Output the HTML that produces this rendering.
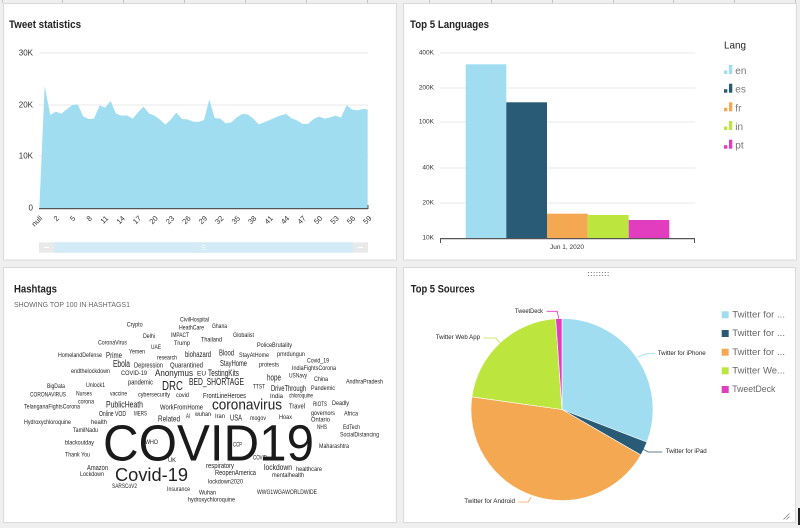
<!DOCTYPE html>
<html><head><meta charset="utf-8"><style>
html,body{margin:0;padding:0;background:#efefef;}
svg{display:block;}
text{font-family:"Liberation Sans",sans-serif;}
</style></head><body>
<svg width="800" height="528" viewBox="0 0 800 528" xmlns="http://www.w3.org/2000/svg">
<rect x="0" y="0" width="800" height="528" fill="#efefef"/>
<g stroke="#c4c4c4" stroke-width="1">
<line x1="2.5" y1="0" x2="2.5" y2="3"/><line x1="62.5" y1="0" x2="62.5" y2="3"/><line x1="123.5" y1="0" x2="123.5" y2="3"/><line x1="184.5" y1="0" x2="184.5" y2="3"/><line x1="245.5" y1="0" x2="245.5" y2="3"/><line x1="306.5" y1="0" x2="306.5" y2="3"/><line x1="367.5" y1="0" x2="367.5" y2="3"/><line x1="429.5" y1="0" x2="429.5" y2="3"/><line x1="491.5" y1="0" x2="491.5" y2="3"/><line x1="552.5" y1="0" x2="552.5" y2="3"/><line x1="613.5" y1="0" x2="613.5" y2="3"/><line x1="673.5" y1="0" x2="673.5" y2="3"/><line x1="734.5" y1="0" x2="734.5" y2="3"/><line x1="795.5" y1="0" x2="795.5" y2="3"/>
</g>
<!-- panels -->
<rect x="3.5" y="3.5" width="393" height="256.5" fill="#fff" stroke="#dadada"/>
<rect x="403.5" y="3.5" width="393" height="256.5" fill="#fff" stroke="#dadada"/>
<rect x="3.5" y="267.5" width="393" height="255" fill="#fff" stroke="#dadada"/>
<rect x="403.5" y="267.5" width="392" height="255" fill="#fff" stroke="#dadada"/>

<!-- ===== Tweet statistics ===== -->
<text x="9" y="28" font-size="11" font-weight="bold" fill="#222" textLength="72" lengthAdjust="spacingAndGlyphs">Tweet statistics</text>
<g stroke="#e8e8e8" stroke-width="1">
<line x1="39" y1="53" x2="368" y2="53"/><line x1="39" y1="105" x2="368" y2="105"/><line x1="39" y1="156" x2="368" y2="156"/>
</g>
<g font-size="8" fill="#333" text-anchor="end" dominant-baseline="central">
<text x="33" y="53">30K</text><text x="33" y="105">20K</text><text x="33" y="156">10K</text><text x="33" y="208">0</text>
</g>
<g transform="scale(0.333333)">
<polygon fill="#a0ddf0" points="118,625 134,258 151,345 167,335 184,341 200,328 217,315 233,313 250,350 266,357 282,356 299,316 315,323 332,303 348,341 365,347 381,346 398,356 414,337 430,320 447,340 463,347 480,359 496,374 513,358 529,338 546,357 562,358 579,365 595,366 612,360 628,298 644,354 661,356 677,370 694,367 710,352 727,342 743,343 760,356 776,373 792,367 809,360 825,353 842,346 858,342 875,355 891,361 908,372 924,372 941,357 957,350 974,356 990,352 1007,347 1023,353 1040,315 1056,329 1073,331 1089,327 1103,328 1103,625"/>
</g>
<line x1="39" y1="208.6" x2="368" y2="208.6" stroke="#555" stroke-width="1.2"/>
<line x1="368" y1="205" x2="368" y2="209" stroke="#555" stroke-width="1"/>
<g font-size="7.5" fill="#333" text-anchor="end" dominant-baseline="central">
<text transform="translate(41,217) rotate(-45)">null</text>
<text transform="translate(57.8,217) rotate(-45)">2</text>
<text transform="translate(74.2,217) rotate(-45)">5</text>
<text transform="translate(90.7,217) rotate(-45)">8</text>
<text transform="translate(107.1,217) rotate(-45)">11</text>
<text transform="translate(123.6,217) rotate(-45)">14</text>
<text transform="translate(140,217) rotate(-45)">17</text>
<text transform="translate(156.5,217) rotate(-45)">20</text>
<text transform="translate(173,217) rotate(-45)">23</text>
<text transform="translate(189.4,217) rotate(-45)">26</text>
<text transform="translate(205.9,217) rotate(-45)">29</text>
<text transform="translate(222.3,217) rotate(-45)">32</text>
<text transform="translate(238.8,217) rotate(-45)">35</text>
<text transform="translate(255.2,217) rotate(-45)">38</text>
<text transform="translate(271.7,217) rotate(-45)">41</text>
<text transform="translate(288.1,217) rotate(-45)">44</text>
<text transform="translate(304.6,217) rotate(-45)">47</text>
<text transform="translate(321,217) rotate(-45)">50</text>
<text transform="translate(337.5,217) rotate(-45)">53</text>
<text transform="translate(354,217) rotate(-45)">56</text>
<text transform="translate(370.3,217) rotate(-45)">59</text>
</g>
<!-- scrollbar -->
<rect x="39" y="242.3" width="329" height="10.4" fill="#e9e9e9"/>
<rect x="54" y="242.3" width="299" height="10.4" fill="#d2ebf6"/>
<line x1="44" y1="247.5" x2="49" y2="247.5" stroke="#fff" stroke-width="1"/>
<line x1="358" y1="247.5" x2="363" y2="247.5" stroke="#fff" stroke-width="1"/>
<g fill="#fff"><circle cx="202" cy="245.5" r="0.5"/><circle cx="203.5" cy="245.5" r="0.5"/><circle cx="205" cy="245.5" r="0.5"/><circle cx="202" cy="247.5" r="0.5"/><circle cx="203.5" cy="247.5" r="0.5"/><circle cx="205" cy="247.5" r="0.5"/><circle cx="202" cy="249.5" r="0.5"/><circle cx="203.5" cy="249.5" r="0.5"/><circle cx="205" cy="249.5" r="0.5"/></g>

<!-- ===== Top 5 Languages ===== -->
<text x="410" y="28" font-size="11" font-weight="bold" fill="#222" textLength="79" lengthAdjust="spacingAndGlyphs">Top 5 Languages</text>
<g stroke="#e8e8e8" stroke-width="1">
<line x1="440" y1="53" x2="695" y2="53"/><line x1="440" y1="88" x2="695" y2="88"/><line x1="440" y1="122" x2="695" y2="122"/><line x1="440" y1="168" x2="695" y2="168"/><line x1="440" y1="203" x2="695" y2="203"/>
</g>
<g font-size="6.5" fill="#333" text-anchor="end" dominant-baseline="central">
<text x="434" y="53">400K</text><text x="434" y="88">200K</text><text x="434" y="122">100K</text><text x="434" y="168">40K</text><text x="434" y="203">20K</text><text x="434" y="238">10K</text>
</g>
<rect x="465.7" y="64.3" width="40.6" height="173.7" fill="#a0ddf0"/>
<rect x="506.3" y="102.3" width="40.7" height="135.7" fill="#295b76"/>
<rect x="547" y="213.7" width="40.7" height="24.3" fill="#f5a852"/>
<rect x="587.7" y="215" width="41" height="23" fill="#bce63e"/>
<rect x="628.7" y="220" width="40.6" height="18" fill="#e23cbf"/>
<line x1="440" y1="238.6" x2="695" y2="238.6" stroke="#555" stroke-width="1.2"/>
<line x1="440.5" y1="238" x2="440.5" y2="243" stroke="#555"/>
<line x1="694.5" y1="238" x2="694.5" y2="243" stroke="#555"/>
<text x="567" y="247.5" font-size="6.5" fill="#333" text-anchor="middle" dominant-baseline="central">Jun 1, 2020</text>
<text x="724" y="48.5" font-size="10.5" fill="#222" textLength="22" lengthAdjust="spacingAndGlyphs">Lang</text>
<g font-size="10" fill="#777">
<rect x="724" y="70.5" width="3.3" height="3.5" fill="#a0ddf0"/><rect x="729" y="65" width="3.3" height="9" fill="#a0ddf0"/><text x="735.3" y="74">en</text>
<rect x="724" y="89.2" width="3.3" height="3.5" fill="#295b76"/><rect x="729" y="83.7" width="3.3" height="9" fill="#295b76"/><text x="735.3" y="92.7">es</text>
<rect x="724" y="107.8" width="3.3" height="3.5" fill="#f5a852"/><rect x="729" y="102.3" width="3.3" height="9" fill="#f5a852"/><text x="735.3" y="111.3">fr</text>
<rect x="724" y="126.5" width="3.3" height="3.5" fill="#bce63e"/><rect x="729" y="121" width="3.3" height="9" fill="#bce63e"/><text x="735.3" y="130">in</text>
<rect x="724" y="145.2" width="3.3" height="3.5" fill="#e23cbf"/><rect x="729" y="139.7" width="3.3" height="9" fill="#e23cbf"/><text x="735.3" y="148.7">pt</text>
</g>

<!-- ===== Hashtags ===== -->
<text x="14" y="292.5" font-size="11" font-weight="bold" fill="#222" textLength="43" lengthAdjust="spacingAndGlyphs">Hashtags</text>
<text x="14" y="307.2" font-size="7" fill="#666" textLength="116" lengthAdjust="spacingAndGlyphs">SHOWING TOP 100 IN HASHTAGS1</text>
<g fill="#222" dominant-baseline="central" lengthAdjust="spacingAndGlyphs">
<text x="126.7" y="325.3" font-size="6" textLength="16" lengthAdjust="spacingAndGlyphs">Crypto</text>
<text x="180" y="320.7" font-size="6" textLength="29" lengthAdjust="spacingAndGlyphs">CivilHospital</text>
<text x="179" y="328.7" font-size="6" textLength="25" lengthAdjust="spacingAndGlyphs">HeathCare</text>
<text x="212" y="327" font-size="6" textLength="15" lengthAdjust="spacingAndGlyphs">Ghana</text>
<text x="143" y="337" font-size="6" textLength="12" lengthAdjust="spacingAndGlyphs">Delhi</text>
<text x="171" y="336" font-size="6" textLength="18" lengthAdjust="spacingAndGlyphs">IMPACT</text>
<text x="201" y="340" font-size="6.5" textLength="21" lengthAdjust="spacingAndGlyphs">Thailand</text>
<text x="233" y="336" font-size="6" textLength="21" lengthAdjust="spacingAndGlyphs">Globalist</text>
<text x="98" y="343.7" font-size="6" textLength="29" lengthAdjust="spacingAndGlyphs">CoronaVirus</text>
<text x="174" y="343.7" font-size="6.5" textLength="16" lengthAdjust="spacingAndGlyphs">Trump</text>
<text x="151" y="348" font-size="6" textLength="10" lengthAdjust="spacingAndGlyphs">UAE</text>
<text x="257" y="346" font-size="6" textLength="35" lengthAdjust="spacingAndGlyphs">PoliceBrutality</text>
<text x="129" y="352" font-size="6.5" textLength="16" lengthAdjust="spacingAndGlyphs">Yemen</text>
<text x="58" y="356" font-size="6" textLength="44" lengthAdjust="spacingAndGlyphs">HomelandDefense</text>
<text x="106" y="355.7" font-size="8" textLength="16" lengthAdjust="spacingAndGlyphs">Prime</text>
<text x="157" y="358" font-size="6.5" textLength="20" lengthAdjust="spacingAndGlyphs">research</text>
<text x="185" y="354.7" font-size="8" textLength="26" lengthAdjust="spacingAndGlyphs">biohazard</text>
<text x="219" y="353" font-size="8" textLength="15" lengthAdjust="spacingAndGlyphs">Blood</text>
<text x="239" y="356" font-size="6" textLength="30" lengthAdjust="spacingAndGlyphs">StayAtHome</text>
<text x="277" y="355" font-size="6" textLength="28" lengthAdjust="spacingAndGlyphs">pmrdungun</text>
<text x="113" y="364.7" font-size="10" textLength="17" lengthAdjust="spacingAndGlyphs">Ebola</text>
<text x="134" y="365" font-size="7.5" textLength="29" lengthAdjust="spacingAndGlyphs">Depression</text>
<text x="170" y="365" font-size="7.5" textLength="33" lengthAdjust="spacingAndGlyphs">Quarantined</text>
<text x="220" y="363" font-size="8.5" textLength="27" lengthAdjust="spacingAndGlyphs">StayHome</text>
<text x="259" y="365" font-size="6.5" textLength="20" lengthAdjust="spacingAndGlyphs">protests</text>
<text x="307" y="361" font-size="6.5" textLength="22" lengthAdjust="spacingAndGlyphs">Covid_19</text>
<text x="71" y="372" font-size="6" textLength="39" lengthAdjust="spacingAndGlyphs">endthelockdown</text>
<text x="121" y="373.7" font-size="6.5" textLength="26" lengthAdjust="spacingAndGlyphs">COVID-19</text>
<text x="155" y="373.3" font-size="9.5" textLength="38" lengthAdjust="spacingAndGlyphs">Anonymus</text>
<text x="197" y="374.7" font-size="6" textLength="9" lengthAdjust="spacingAndGlyphs">EU</text>
<text x="208" y="373" font-size="9" textLength="31" lengthAdjust="spacingAndGlyphs">TestingKits</text>
<text x="292" y="369" font-size="6" textLength="44" lengthAdjust="spacingAndGlyphs">IndiaFightsCorona</text>
<text x="267" y="378" font-size="9.5" textLength="14" lengthAdjust="spacingAndGlyphs">hope</text>
<text x="289" y="376.7" font-size="6" textLength="18" lengthAdjust="spacingAndGlyphs">USNavy</text>
<text x="314" y="379.3" font-size="6.5" textLength="14" lengthAdjust="spacingAndGlyphs">China</text>
<text x="346" y="382" font-size="6.5" textLength="37" lengthAdjust="spacingAndGlyphs">AndhraPradesh</text>
<text x="128" y="382" font-size="7.5" textLength="25" lengthAdjust="spacingAndGlyphs">pandemic</text>
<text x="162" y="386" font-size="12.5" textLength="21" lengthAdjust="spacingAndGlyphs">DRC</text>
<text x="189" y="382" font-size="10.5" textLength="55" lengthAdjust="spacingAndGlyphs">BED_SHORTAGE</text>
<text x="253" y="387" font-size="6.5" textLength="12" lengthAdjust="spacingAndGlyphs">TTST</text>
<text x="271" y="388" font-size="8.5" textLength="35" lengthAdjust="spacingAndGlyphs">DriveThrough</text>
<text x="311" y="388.3" font-size="6.5" textLength="24" lengthAdjust="spacingAndGlyphs">Pandemic</text>
<text x="47" y="387" font-size="6" textLength="18" lengthAdjust="spacingAndGlyphs">BigData</text>
<text x="86" y="385.7" font-size="6.5" textLength="19" lengthAdjust="spacingAndGlyphs">Unlock1</text>
<text x="30" y="395.7" font-size="6" textLength="36" lengthAdjust="spacingAndGlyphs">CORONAVIRUS</text>
<text x="76" y="394.3" font-size="6" textLength="16" lengthAdjust="spacingAndGlyphs">Nurses</text>
<text x="110" y="394.7" font-size="6" textLength="17" lengthAdjust="spacingAndGlyphs">vaccine</text>
<text x="138" y="395.3" font-size="6" textLength="32" lengthAdjust="spacingAndGlyphs">cybersecurity</text>
<text x="176" y="396" font-size="6" textLength="13" lengthAdjust="spacingAndGlyphs">covid</text>
<text x="78" y="402.3" font-size="6" textLength="16" lengthAdjust="spacingAndGlyphs">corona</text>
<text x="106" y="404.7" font-size="9" textLength="37" lengthAdjust="spacingAndGlyphs">PublicHeath</text>
<text x="160" y="407" font-size="7.5" textLength="43" lengthAdjust="spacingAndGlyphs">WorkFromHome</text>
<text x="24" y="407.7" font-size="6" textLength="56" lengthAdjust="spacingAndGlyphs">TelanganaFightsCorona</text>
<text x="212" y="405" font-size="15" textLength="70" lengthAdjust="spacingAndGlyphs">coronavirus</text>
<text x="203" y="395.3" font-size="7.5" textLength="43" lengthAdjust="spacingAndGlyphs">FrontLineHeroes</text>
<text x="270" y="396.7" font-size="6.5" textLength="13" lengthAdjust="spacingAndGlyphs">India</text>
<text x="289" y="396.7" font-size="6" textLength="24" lengthAdjust="spacingAndGlyphs">chloroquine</text>
<text x="289" y="407" font-size="7" textLength="16" lengthAdjust="spacingAndGlyphs">Travel</text>
<text x="313" y="405" font-size="6" textLength="14" lengthAdjust="spacingAndGlyphs">RIOTS</text>
<text x="332" y="403.3" font-size="6.5" textLength="17" lengthAdjust="spacingAndGlyphs">Deadly</text>
<text x="99" y="414.7" font-size="7" textLength="27" lengthAdjust="spacingAndGlyphs">Online VOD</text>
<text x="134" y="414.7" font-size="6" textLength="13" lengthAdjust="spacingAndGlyphs">MERS</text>
<text x="158" y="418.7" font-size="8.5" textLength="22" lengthAdjust="spacingAndGlyphs">Related</text>
<text x="186" y="417" font-size="6" textLength="4" lengthAdjust="spacingAndGlyphs">AI</text>
<text x="195" y="414.3" font-size="6.5" textLength="16" lengthAdjust="spacingAndGlyphs">wuhan</text>
<text x="215" y="417" font-size="6" textLength="10" lengthAdjust="spacingAndGlyphs">Iran</text>
<text x="230" y="418" font-size="8" textLength="12" lengthAdjust="spacingAndGlyphs">USA</text>
<text x="250" y="418.3" font-size="6.5" textLength="16" lengthAdjust="spacingAndGlyphs">mogov</text>
<text x="279" y="417.3" font-size="6.5" textLength="13" lengthAdjust="spacingAndGlyphs">Hoax</text>
<text x="311" y="413.3" font-size="6.5" textLength="24" lengthAdjust="spacingAndGlyphs">governors</text>
<text x="344" y="414.3" font-size="6" textLength="14" lengthAdjust="spacingAndGlyphs">Africa</text>
<text x="311" y="420.7" font-size="6" textLength="19" lengthAdjust="spacingAndGlyphs">Ontario</text>
<text x="317" y="428" font-size="6" textLength="10" lengthAdjust="spacingAndGlyphs">NHS</text>
<text x="343" y="427.7" font-size="6.5" textLength="17" lengthAdjust="spacingAndGlyphs">EdTech</text>
<text x="340" y="435.7" font-size="6" textLength="39" lengthAdjust="spacingAndGlyphs">SocialDistancing</text>
<text x="24" y="423" font-size="6" textLength="47" lengthAdjust="spacingAndGlyphs">Hydroxychloroquine</text>
<text x="91" y="422.7" font-size="6.5" textLength="16" lengthAdjust="spacingAndGlyphs">health</text>
<text x="73" y="430.3" font-size="6.5" textLength="25" lengthAdjust="spacingAndGlyphs">TamilNadu</text>
<text x="103" y="460.7" font-size="51" dominant-baseline="alphabetic" fill="#1a1a1a" textLength="211" lengthAdjust="spacingAndGlyphs">COVID19</text>
<text x="145" y="442.7" font-size="6.5" textLength="13" lengthAdjust="spacingAndGlyphs">WHO</text>
<text x="65" y="443" font-size="6.5" textLength="29" lengthAdjust="spacingAndGlyphs">blackoutday</text>
<text x="233" y="445.3" font-size="6" textLength="9" lengthAdjust="spacingAndGlyphs">CCP</text>
<text x="319" y="446.7" font-size="6.5" textLength="30" lengthAdjust="spacingAndGlyphs">Maharashtra</text>
<text x="65" y="455" font-size="6.5" textLength="25" lengthAdjust="spacingAndGlyphs">Thank You</text>
<text x="168" y="460.7" font-size="6.5" textLength="8" lengthAdjust="spacingAndGlyphs">UK</text>
<text x="253" y="458.7" font-size="6" textLength="14" lengthAdjust="spacingAndGlyphs">COVID</text>
<text x="206" y="465.7" font-size="7.5" textLength="28" lengthAdjust="spacingAndGlyphs">respiratory</text>
<text x="264" y="467" font-size="8.5" textLength="28" lengthAdjust="spacingAndGlyphs">lockdown</text>
<text x="296" y="469.3" font-size="6.5" textLength="26" lengthAdjust="spacingAndGlyphs">healthcare</text>
<text x="87" y="467.3" font-size="7.5" textLength="21" lengthAdjust="spacingAndGlyphs">Amazon</text>
<text x="80" y="474.3" font-size="6.5" textLength="24" lengthAdjust="spacingAndGlyphs">Lockdown</text>
<text x="115" y="475" font-size="18" textLength="73" lengthAdjust="spacingAndGlyphs">Covid-19</text>
<text x="215" y="473.7" font-size="7" textLength="41" lengthAdjust="spacingAndGlyphs">ReopenAmerica</text>
<text x="272" y="475.7" font-size="6.5" textLength="32" lengthAdjust="spacingAndGlyphs">mentalhealth</text>
<text x="208" y="482" font-size="6.5" textLength="35" lengthAdjust="spacingAndGlyphs">lockdown2020</text>
<text x="112" y="487" font-size="6" textLength="25" lengthAdjust="spacingAndGlyphs">SARSCoV2</text>
<text x="167" y="490" font-size="6" textLength="23" lengthAdjust="spacingAndGlyphs">Insurance</text>
<text x="199" y="493" font-size="6.5" textLength="17" lengthAdjust="spacingAndGlyphs">Wuhan</text>
<text x="257" y="493" font-size="6" textLength="60" lengthAdjust="spacingAndGlyphs">WWG1WGAWORLDWIDE</text>
<text x="188" y="500.7" font-size="6" textLength="47" lengthAdjust="spacingAndGlyphs">hydroxychloroquine</text>
</g>

<!-- ===== Top 5 Sources ===== -->
<g fill="#555">
<circle cx="588.5" cy="272.5" r="0.55"/><circle cx="591.3" cy="272.5" r="0.55"/><circle cx="594.1" cy="272.5" r="0.55"/><circle cx="596.9" cy="272.5" r="0.55"/><circle cx="599.7" cy="272.5" r="0.55"/><circle cx="602.5" cy="272.5" r="0.55"/><circle cx="605.3" cy="272.5" r="0.55"/><circle cx="608.1" cy="272.5" r="0.55"/>
<circle cx="588.5" cy="275.5" r="0.55"/><circle cx="591.3" cy="275.5" r="0.55"/><circle cx="594.1" cy="275.5" r="0.55"/><circle cx="596.9" cy="275.5" r="0.55"/><circle cx="599.7" cy="275.5" r="0.55"/><circle cx="602.5" cy="275.5" r="0.55"/><circle cx="605.3" cy="275.5" r="0.55"/><circle cx="608.1" cy="275.5" r="0.55"/>
</g>
<text x="410.7" y="292.5" font-size="11" font-weight="bold" fill="#222" textLength="64" lengthAdjust="spacingAndGlyphs">Top 5 Sources</text>
<g stroke="#fff" stroke-width="0.6">
<path d="M562,409.5 L562,318.5 A91,91 0 0 1 646.96,442.11 Z" fill="#a0ddf0"/>
<path d="M562,409.5 L646.96,442.11 A91,91 0 0 1 640.81,455 Z" fill="#295b76"/>
<path d="M562,409.5 L640.81,455 A91,91 0 0 1 471.88,396.83 Z" fill="#f5a852"/>
<path d="M562,409.5 L471.88,396.83 A91,91 0 0 1 555.65,318.72 Z" fill="#bce63e"/>
<path d="M562,409.5 L555.65,318.72 A91,91 0 0 1 562,318.5 Z" fill="#e23cbf"/>
</g>
<g fill="none" stroke-width="0.8">
<polyline points="546.7,311.3 557.3,311.3 558.7,318.7" stroke="#e23cbf"/>
<polyline points="483.3,338 495.7,338 500,342.7" stroke="#bce63e"/>
<polyline points="637.7,357 646.7,353.7 655,353.7" stroke="#a0ddf0"/>
<polyline points="643.3,449.3 648.3,452 662.3,452" stroke="#295b76"/>
<polyline points="518.3,502 528.3,502 531,497" stroke="#f5a852"/>
</g>
<g font-size="6.5" fill="#222" dominant-baseline="central">
<text x="515" y="311.3" textLength="28" lengthAdjust="spacingAndGlyphs">TweetDeck</text>
<text x="435.7" y="337.7" textLength="44.3" lengthAdjust="spacingAndGlyphs">Twitter Web App</text>
<text x="657.7" y="353.3" textLength="48" lengthAdjust="spacingAndGlyphs">Twitter for iPhone</text>
<text x="665.7" y="451.3" textLength="41" lengthAdjust="spacingAndGlyphs">Twitter for iPad</text>
<text x="464.3" y="501.3" textLength="50.7" lengthAdjust="spacingAndGlyphs">Twitter for Android</text>
</g>
<g font-size="9.5" fill="#666" dominant-baseline="central">
<rect x="721.7" y="311.3" width="7" height="7" fill="#a0ddf0"/><text x="732.3" y="315" textLength="52.7" lengthAdjust="spacingAndGlyphs">Twitter for ...</text>
<rect x="721.7" y="330" width="7" height="7" fill="#295b76"/><text x="732.3" y="333.7" textLength="52.7" lengthAdjust="spacingAndGlyphs">Twitter for ...</text>
<rect x="721.7" y="348.7" width="7" height="7" fill="#f5a852"/><text x="732.3" y="352.4" textLength="52.7" lengthAdjust="spacingAndGlyphs">Twitter for ...</text>
<rect x="721.7" y="367.3" width="7" height="7" fill="#bce63e"/><text x="732.3" y="371" textLength="52.7" lengthAdjust="spacingAndGlyphs">Twitter We...</text>
<rect x="721.7" y="386" width="7" height="7" fill="#e23cbf"/><text x="732.3" y="389.7" textLength="43" lengthAdjust="spacingAndGlyphs">TweetDeck</text>
</g>
<g stroke="#777" stroke-width="0.7">
<line x1="783.5" y1="519.5" x2="789.5" y2="513.5"/><line x1="786.5" y1="519.5" x2="789.5" y2="516.5"/>
</g>
<rect x="798" y="508" width="2" height="17" fill="#222"/>
</svg>
</body></html>
